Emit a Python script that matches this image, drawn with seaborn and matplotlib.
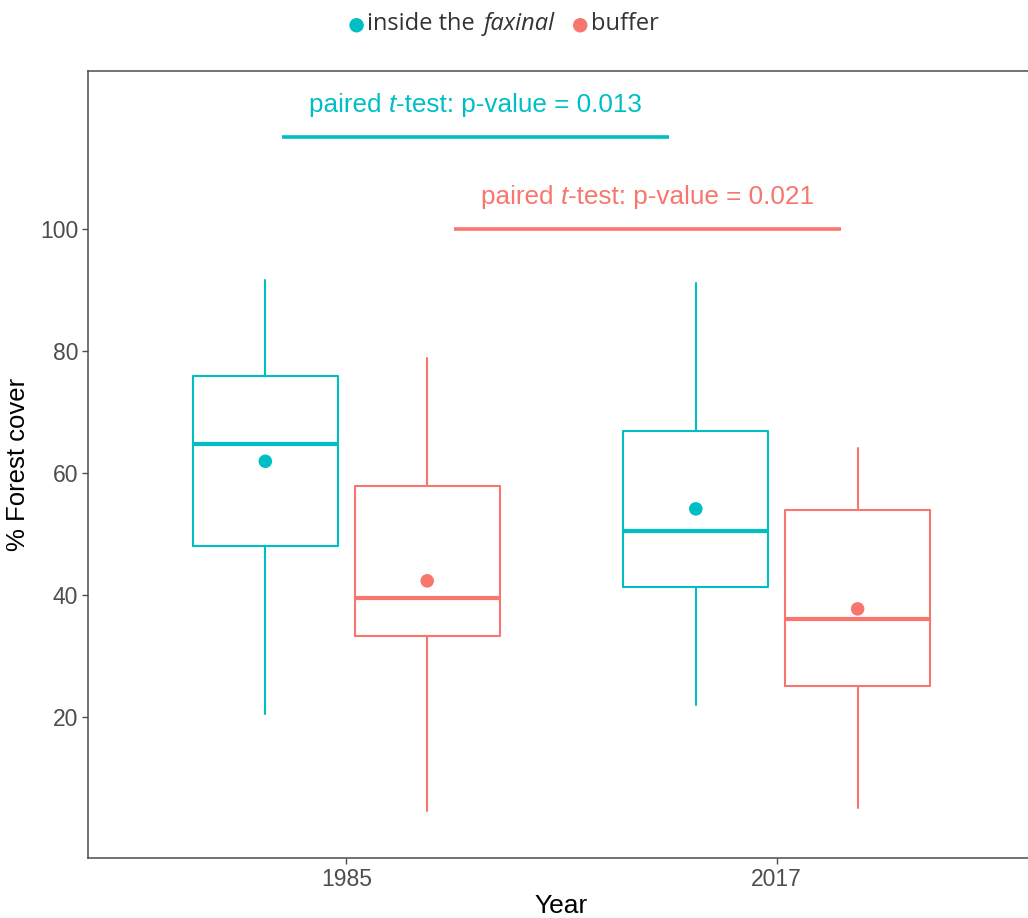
import matplotlib
matplotlib.use("Agg")
import numpy as np
import pandas as pd
import matplotlib.pyplot as plt
import seaborn as sns
from matplotlib.offsetbox import TextArea, HPacker, DrawingArea, AnnotationBbox
from matplotlib.patches import Circle

# ---- data -------------------------------------------------------------
years = ["1985", "2017"]
group_labels = ["inside the faxinal", "buffer"]

# box statistics (% forest cover) per year
inside_low = [20.4, 21.9]
inside_q1 = [48.0, 41.3]
inside_med = [64.7, 50.4]
inside_q3 = [75.9, 66.9]
inside_high = [91.7, 91.1]
inside_mean = [61.9, 54.1]

buffer_low = [4.5, 5.0]
buffer_q1 = [33.2, 25.1]
buffer_med = [39.5, 36.1]
buffer_q3 = [57.9, 53.9]
buffer_high = [78.8, 64.0]
buffer_mean = [42.3, 37.7]

# paired t-test p-values (inside, buffer)
p_values = ["0.013", "0.021"]

# ---- style ------------------------------------------------------------
sns.set_theme(style="white")
plt.rcParams["font.family"] = ["Liberation Sans", "DejaVu Sans"]

CYAN = "#00BFC4"
SALMON = "#F8766D"
GREY = "#4D4D4D"
colors = [CYAN, SALMON]

fig = plt.figure(figsize=(10.28, 9.18), dpi=100)
ax = fig.add_axes([0.0856, 0.065, 0.9212, 0.8577])

centers = np.arange(1, len(years) + 1)
dodge = 0.188
box_w = 0.337


def box_stats(low, q1, med, q3, high):
    return [dict(whislo=l, q1=a, med=m, q3=b, whishi=h, fliers=[])
            for l, a, m, b, h in zip(low, q1, med, q3, high)]


series = [
    (box_stats(inside_low, inside_q1, inside_med, inside_q3, inside_high), -dodge),
    (box_stats(buffer_low, buffer_q1, buffer_med, buffer_q3, buffer_high), dodge),
]
for (stats, off), col in zip(series, colors):
    ax.bxp(stats, positions=centers + off, widths=box_w, showcaps=False,
           showfliers=False, manage_ticks=False,
           boxprops=dict(color=col, lw=1.5),
           whiskerprops=dict(color=col, lw=1.5),
           medianprops=dict(color=col, lw=3.0, solid_capstyle="butt"))

# group means
means = pd.DataFrame({
    "x": np.concatenate([centers - dodge, centers + dodge]),
    "mean": inside_mean + buffer_mean,
    "group": [group_labels[0]] * len(years) + [group_labels[1]] * len(years),
})
sns.scatterplot(data=means, x="x", y="mean", hue="group",
                palette=dict(zip(group_labels, colors)), s=95,
                linewidth=0, legend=False, ax=ax, zorder=4)

# paired t-test brackets
bracket_y = [115.0, 100.0]
bracket_span = [(0.85, 1.75), (1.25, 2.15)]
label_y = [120.3, 105.3]
for (x0, x1), y, ty, p, col in zip(bracket_span, bracket_y, label_y, p_values, colors):
    ax.plot([x0, x1], [y, y], color=col, lw=2.6, solid_capstyle="butt")
    tp = dict(color=col, fontsize=18.8, family="Liberation Sans")
    pieces = HPacker(children=[
        TextArea("paired ", textprops=tp),
        TextArea("t", textprops=dict(tp, style="italic")),
        TextArea(f"-test: p-value = {p}", textprops=tp),
    ], sep=0, pad=0, align="baseline")
    ax.add_artist(AnnotationBbox(pieces, ((x0 + x1) / 2, ty), xycoords="data",
                                 frameon=False, box_alignment=(0.5, 0.5), pad=0))

# axes
ax.set_xlim(0.4, 2.6)
ax.set_ylim(-3.2, 125.9)
ax.set_xticks(centers, years)
ax.set_yticks([20, 40, 60, 80, 100])
ax.tick_params(axis="both", labelsize=16.5, labelcolor=GREY, color=GREY,
               length=4, width=1.0, direction="out", bottom=True, left=True, pad=3)
ax.set_xlabel("Year", fontsize=19, color="black", labelpad=2)
ax.set_ylabel("% Forest cover", fontsize=18.5, color="black", labelpad=7)
for side in ["left", "bottom", "top", "right"]:
    ax.spines[side].set_color(GREY)
    ax.spines[side].set_linewidth(1.1)
ax.grid(False)

# legend along the top
def dot(col):
    da = DrawingArea(11, 11, 0, 0)
    da.add_artist(Circle((5.5, 4.5), 5.2, color=col, lw=0))
    return da

lp = dict(fontsize=17, color="#333333", family="Open Sans")
legend = HPacker(children=[
    dot(CYAN),
    TextArea("inside the ", textprops=lp),
    TextArea("faxinal", textprops=dict(lp, style="italic")),
    TextArea("  ", textprops=lp),
    dot(SALMON),
    TextArea("buffer", textprops=lp),
], sep=2, pad=0, align="center")
fig.add_artist(AnnotationBbox(legend, (0.49, 0.974), xycoords="figure fraction",
                              frameon=False, box_alignment=(0.5, 0.5), pad=0))

fig.savefig("out.png", dpi=100)
